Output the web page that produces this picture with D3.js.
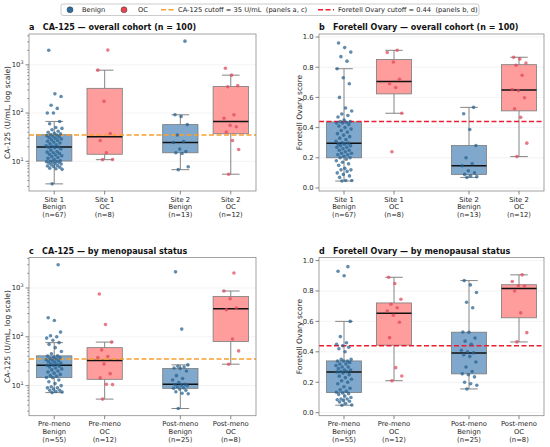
<!DOCTYPE html>
<html><head><meta charset="utf-8">
<script src="https://cdn.jsdelivr.net/npm/d3@7"></script>
<style>body{margin:0;background:#fff} svg{font-family:"DejaVu Sans",sans-serif}</style>
</head><body><svg id="c" width="550" height="447"></svg>
<script>
// ---------- data ----------
const categoriesOverall = ["Site 1|Benign", "Site 1|OC", "Site 2|Benign", "Site 2|OC"];
const categoriesMeno = ["Pre-meno|Benign", "Pre-meno|OC", "Post-meno|Benign", "Post-meno|OC"];
const classes = ["Benign", "OC", "Benign", "OC"];

const ca125Site1Benign = [3.4, 6.8, 7, 7.2, 7.5, 7.8, 8, 8.2, 8.5, 8.8, 9, 9.2, 9.5, 9.7, 9.8, 9.9,
  10, 10.2, 11, 11.5, 12, 12.5, 13, 13.5, 14, 14.5, 15, 15.5, 16, 17, 18, 19, 19.5,
  19.7,
  20.5, 21, 22, 23, 24, 25, 26, 27, 28, 29, 30, 31, 32, 33, 34, 35,
  36, 37, 38, 40, 42, 45, 48, 50, 60, 67, 100, 100, 125, 145, 220, 250, 2000];
const ca125Site1OC = [10.8, 10.9, 15, 27, 37.6, 176, 775, 2020];
const ca125Site2Benign = [6.7, 7.7, 14.5, 15, 16, 17.9, 24.5, 25.7, 35, 57.6, 85, 92, 3100];
const ca125Site2OC = [5.4, 17.6, 27, 40.6, 52, 55.6, 78, 92, 352, 370, 611, 850];

const foretellSite1Benign = [0.046, 0.05, 0.05, 0.07, 0.08, 0.09, 0.1, 0.11, 0.12, 0.12, 0.13, 0.15, 0.16, 0.17, 0.18, 0.19,
  0.2, 0.2,
  0.21, 0.22, 0.22, 0.23, 0.23, 0.24, 0.25, 0.25, 0.26, 0.27, 0.27, 0.28, 0.28, 0.29, 0.29,
  0.297,
  0.30, 0.31, 0.32, 0.33, 0.34, 0.35, 0.36, 0.37, 0.38, 0.39, 0.40, 0.41, 0.42, 0.43, 0.43, 0.435,
  0.44,
  0.44, 0.45, 0.47, 0.48, 0.49, 0.51, 0.53, 0.60, 0.69, 0.73, 0.79, 0.84, 0.87, 0.90, 0.93, 0.96];
const foretellSite1OC = [0.24, 0.495, 0.666, 0.69, 0.72, 0.835, 0.897, 0.912];
const foretellSite2Benign = [0.07, 0.075, 0.08, 0.09, 0.1, 0.114, 0.147, 0.16, 0.2, 0.281, 0.387, 0.492, 0.534];
const foretellSite2OC = [0.208, 0.297, 0.468, 0.525, 0.598, 0.645, 0.652, 0.747, 0.813, 0.828, 0.855, 0.866];

const ca125PreBenign = [7.2, 7.4, 7.6, 8, 8, 8.5, 9, 9, 9.5, 10, 11, 12, 13, 14.5,
  14.7,
  15.5, 16, 17, 18, 19, 20, 21, 22, 23, 24, 25, 26,
  26.2,
  27, 28, 29, 30, 31, 32, 33, 34, 35, 36, 37, 38, 40.5,
  41,
  45, 50, 60, 70, 76, 85, 94, 100, 105, 125, 216, 245, 3000];
const ca125PreOC = [5.3, 10.5, 10.7, 14.4, 17.6, 27.9, 37.5, 39.5, 54, 78, 179, 753];
const ca125PostBenign = [3.4, 6.8, 7, 7.5, 8, 8.5, 8.8, 9, 9.5, 10, 10.2, 10.5, 10.7, 11.5, 13, 14, 16, 20, 22.4, 23, 24, 25, 26.6, 144, 2140];
const ca125PostOC = [27.5, 51.5, 90, 360, 390, 603, 867, 2030];

const foretellPreBenign = [0.049, 0.05, 0.06, 0.07, 0.075, 0.08, 0.085, 0.09, 0.09, 0.1, 0.11, 0.12, 0.125, 0.13,
  0.134,
  0.14, 0.15, 0.16, 0.17, 0.19, 0.2, 0.21, 0.22, 0.23, 0.24, 0.25, 0.26,
  0.268,
  0.27, 0.27, 0.28, 0.28, 0.29, 0.3, 0.3, 0.31, 0.32, 0.32, 0.33, 0.34, 0.34,
  0.34,
  0.35, 0.35, 0.40, 0.42, 0.43, 0.44, 0.45, 0.46, 0.50, 0.60, 0.90, 0.93, 0.96];
const foretellPreOC = [0.21, 0.241, 0.296, 0.493, 0.594, 0.64, 0.668, 0.69, 0.713, 0.746, 0.849, 0.89];
const foretellPostBenign = [0.156, 0.18, 0.19, 0.20, 0.235, 0.25, 0.255, 0.27, 0.30, 0.333, 0.37, 0.38, 0.393, 0.40, 0.41, 0.45, 0.47, 0.491, 0.529, 0.53, 0.69, 0.726, 0.79, 0.84, 0.868];
const foretellPostOC = [0.465, 0.526, 0.656, 0.80, 0.832, 0.834, 0.862, 0.906];

const ca125Cutoff = 35;
const foretellCutoff = 0.44;
const logTicks = [10, 100, 1000];
const logTickExp = ["1", "2", "3"];
const linTicks = [0, 0.2, 0.4, 0.6, 0.8, 1.0];
const linTickLabels = ["0.0", "0.2", "0.4", "0.6", "0.8", "1.0"];
const legendLabels = ["Benign", "OC", "CA-125 cutoff = 35 U/mL  (panels a, c)", "Foretell Ovary cutoff = 0.44  (panels b, d)"];

// ---------- style ----------
const svg = d3.select('#c');
const col = {
  Benign: {box: '#7fa8cc', pt: '#245f8e', leg: '#2a6ea4'},
  OC: {box: '#ff9c9c', pt: '#e0475b', leg: '#e8434f'}
};
const orange = '#f7a030', red = '#ee1c30';
const positions = [0, 1, 2.5, 3.5];
const tickFont = 6.8;

function jit(i) { return (((i * 0.6180339887 + 0.37) % 1) * 2 - 1) * 0.16; }

function drawPanel(cfg) {
  const {x0, x1, y0, y1} = cfg;
  const x = d3.scaleLinear().domain([-0.5, 4]).range([x0, x1]);
  let y;
  if (cfg.log) {
    const all = cfg.groups.flat();
    const lo = Math.log10(d3.min(all)), hi = Math.log10(d3.max(all));
    const m = (hi - lo) * 0.05;
    y = d3.scaleLog().domain([10 ** (lo - m), 10 ** (hi + m)]).range([y1, y0]);
  } else {
    y = d3.scaleLinear().domain([-0.02, 1.02]).range([y1, y0]);
  }
  const ticks = cfg.log ? logTicks : linTicks;
  const g = svg.append('g');
  // grid
  g.selectAll('line.grid').data(ticks).join('line').attr('class', 'grid')
    .attr('x1', x0).attr('x2', x1).attr('y1', d => y(d)).attr('y2', d => y(d))
    .attr('stroke', '#ebebeb').attr('stroke-width', 0.6);

  const half = x(0.35) - x(0);
  const capHalf = x(0.175) - x(0);
  cfg.groups.forEach((vals, i) => {
    const s = vals.slice().sort(d3.ascending);
    const q1 = d3.quantileSorted(s, 0.25), med = d3.quantileSorted(s, 0.5), q3 = d3.quantileSorted(s, 0.75);
    const iqr = q3 - q1;
    const wlo = d3.min(s.filter(v => v >= q1 - 1.5 * iqr));
    const whi = d3.max(s.filter(v => v <= q3 + 1.5 * iqr));
    const cx = x(positions[i]);
    const c = col[classes[i]];
    const wg = g.append('g').attr('stroke', '#777').attr('stroke-width', 0.9);
    wg.append('line').attr('x1', cx).attr('x2', cx).attr('y1', y(q1)).attr('y2', y(wlo));
    wg.append('line').attr('x1', cx).attr('x2', cx).attr('y1', y(q3)).attr('y2', y(whi));
    wg.append('line').attr('x1', cx - capHalf).attr('x2', cx + capHalf).attr('y1', y(wlo)).attr('y2', y(wlo));
    wg.append('line').attr('x1', cx - capHalf).attr('x2', cx + capHalf).attr('y1', y(whi)).attr('y2', y(whi));
    g.append('rect').attr('x', cx - half).attr('width', 2 * half)
      .attr('y', y(q3)).attr('height', y(q1) - y(q3))
      .attr('fill', c.box).attr('stroke', '#7a7a7a').attr('stroke-width', 0.8);
    g.append('line').attr('x1', cx - half).attr('x2', cx + half).attr('y1', y(med)).attr('y2', y(med))
      .attr('stroke', '#111').attr('stroke-width', 1.5);
  });
  // cutoff
  g.append('line').attr('x1', x0).attr('x2', x1).attr('y1', y(cfg.cutoff)).attr('y2', y(cfg.cutoff))
    .attr('stroke', cfg.log ? orange : red).attr('stroke-width', 1.4).attr('stroke-dasharray', '5,2.5');
  // points
  cfg.groups.forEach((vals, i) => {
    const c = col[classes[i]];
    g.append('g').selectAll('circle').data(vals).join('circle')
      .attr('cx', (d, j) => x(positions[i] + jit(j)))
      .attr('cy', d => y(d)).attr('r', 1.8)
      .attr('fill', c.pt).attr('fill-opacity', 0.72);
  });
  // frame
  g.append('rect').attr('x', x0).attr('y', y0).attr('width', x1 - x0).attr('height', y1 - y0)
    .attr('fill', 'none').attr('stroke', '#8a8a8a').attr('stroke-width', 0.8);
  // y ticks
  ticks.forEach((t, k) => {
    const yy = y(t);
    g.append('line').attr('x1', x0 - 3.5).attr('x2', x0).attr('y1', yy).attr('y2', yy).attr('stroke', '#555').attr('stroke-width', 0.7);
    const tx = g.append('text').attr('x', x0 - 5.5).attr('y', yy + 2.4).attr('text-anchor', 'end')
      .attr('font-size', tickFont).attr('fill', '#262626');
    if (cfg.log) {
      tx.append('tspan').text('10');
      tx.append('tspan').attr('dy', -3).attr('font-size', 4.8).text(logTickExp[k]);
    } else {
      tx.text(linTickLabels[k]);
    }
  });
  if (cfg.log) {
    const [dlo, dhi] = y.domain();
    for (let e = 0; e <= 3; e++) for (let m = 2; m <= 9; m++) {
      const v = m * 10 ** e;
      if (v >= dlo && v <= dhi) g.append('line').attr('x1', x0 - 2).attr('x2', x0).attr('y1', y(v)).attr('y2', y(v)).attr('stroke', '#555').attr('stroke-width', 0.5);
    }
  }
  // x ticks
  cfg.categories.forEach((cat, i) => {
    const cx = x(positions[i]);
    g.append('line').attr('x1', cx).attr('x2', cx).attr('y1', y1).attr('y2', y1 + 3.5).attr('stroke', '#555').attr('stroke-width', 0.7);
    const lines = cat.split('|').concat([`(n=${cfg.groups[i].length})`]);
    const t = g.append('text').attr('text-anchor', 'middle').attr('font-size', tickFont).attr('fill', '#262626');
    lines.forEach((ln, k) => t.append('tspan').attr('x', cx).attr('y', y1 + 10.5 + k * 7.7).text(ln));
  });
  // y label
  g.append('text').attr('transform', `translate(${x0 - cfg.ylabOff},${(y0 + y1) / 2}) rotate(-90)`)
    .attr('text-anchor', 'middle').attr('font-size', 7.5).attr('fill', '#262626').text(cfg.ylabel);
  // title
  g.append('text').attr('x', x0).attr('y', y0 - 3.8).attr('font-size', 8).attr('font-weight', 'bold')
    .attr('fill', '#111').attr('xml:space', 'preserve').style('white-space', 'pre').text(cfg.title);
}

drawPanel({x0: 29, x1: 256, y0: 34, y1: 191, log: true, cutoff: ca125Cutoff, ylabOff: 19, ylabel: 'CA-125 (U/mL, log scale)',
  title: 'a   CA-125 \u2014 overall cohort (n = 100)', categories: categoriesOverall,
  groups: [ca125Site1Benign, ca125Site1OC, ca125Site2Benign, ca125Site2OC]});
drawPanel({x0: 319, x1: 544, y0: 34, y1: 191, log: false, cutoff: foretellCutoff, ylabOff: 17, ylabel: 'Foretell Ovary score',
  title: 'b   Foretell Ovary \u2014 overall cohort (n = 100)', categories: categoriesOverall,
  groups: [foretellSite1Benign, foretellSite1OC, foretellSite2Benign, foretellSite2OC]});
drawPanel({x0: 29, x1: 256, y0: 257.5, y1: 415.7, log: true, cutoff: ca125Cutoff, ylabOff: 19, ylabel: 'CA-125 (U/mL, log scale)',
  title: 'c   CA-125 \u2014 by menopausal status', categories: categoriesMeno,
  groups: [ca125PreBenign, ca125PreOC, ca125PostBenign, ca125PostOC]});
drawPanel({x0: 319, x1: 544, y0: 257.5, y1: 415.7, log: false, cutoff: foretellCutoff, ylabOff: 17, ylabel: 'Foretell Ovary score',
  title: 'd   Foretell Ovary \u2014 by menopausal status', categories: categoriesMeno,
  groups: [foretellPreBenign, foretellPreOC, foretellPostBenign, foretellPostOC]});

// ---------- legend ----------
const lg = svg.append('g');
lg.append('rect').attr('x', 61).attr('y', 4).attr('width', 418).attr('height', 11.5).attr('rx', 2)
  .attr('fill', '#fff').attr('stroke', '#b5b5b5').attr('stroke-width', 0.7);
const lf = 6.7, ly = 12.2, lc = 9.8;
lg.append('circle').attr('cx', 70).attr('cy', lc).attr('r', 3).attr('fill', col.Benign.leg).attr('stroke', '#333').attr('stroke-width', 0.5);
lg.append('text').attr('x', 82).attr('y', ly).attr('font-size', lf).attr('fill', '#222').text(legendLabels[0]);
lg.append('circle').attr('cx', 124).attr('cy', lc).attr('r', 3).attr('fill', col.OC.leg).attr('stroke', '#333').attr('stroke-width', 0.5);
lg.append('text').attr('x', 138).attr('y', ly).attr('font-size', lf).attr('fill', '#222').text(legendLabels[1]);
lg.append('line').attr('x1', 161).attr('x2', 174).attr('y1', lc).attr('y2', lc).attr('stroke', orange).attr('stroke-width', 1.4).attr('stroke-dasharray', '5,2.5');
lg.append('text').attr('x', 178).attr('y', ly).attr('font-size', lf).attr('fill', '#222').attr('xml:space', 'preserve').style('white-space', 'pre').text(legendLabels[2]);
lg.append('line').attr('x1', 318).attr('x2', 334).attr('y1', lc).attr('y2', lc).attr('stroke', red).attr('stroke-width', 1.4).attr('stroke-dasharray', '5,2.5');
lg.append('text').attr('x', 338).attr('y', ly).attr('font-size', lf).attr('fill', '#222').attr('xml:space', 'preserve').style('white-space', 'pre').text(legendLabels[3]);
</script></body></html>
